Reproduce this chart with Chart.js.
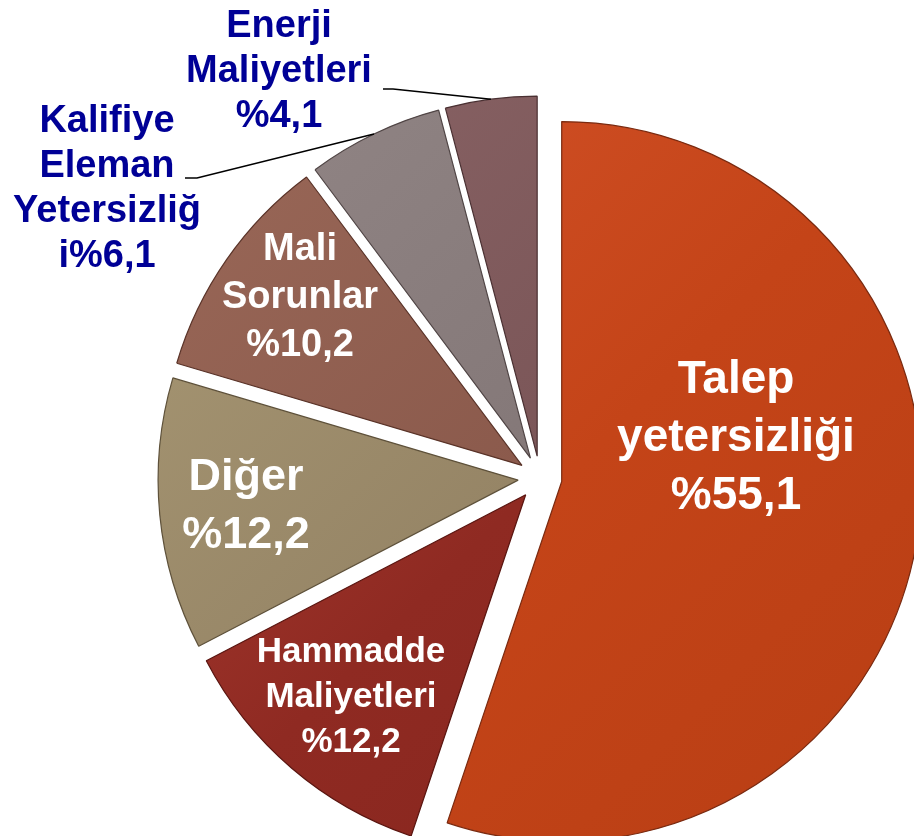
<!DOCTYPE html>
<html><head><meta charset="utf-8">
<script src="https://cdn.jsdelivr.net/npm/chart.js@4.4.1/dist/chart.umd.min.js"></script>
<style>html,body{margin:0;padding:0;background:#fff;overflow:hidden}#wrap{width:914px;height:836px;position:relative}canvas{display:block}</style>
</head><body><div id="wrap"><canvas id="c" width="914" height="836"></canvas></div>
<script>
// ---- data ----
const categories = ['Talep yetersizliği', 'Hammadde Maliyetleri', 'Diğer', 'Mali Sorunlar', 'Kalifiye Eleman Yetersizliği', 'Enerji Maliyetleri'];
const values = [55.1, 12.2, 12.2, 10.2, 6.1, 4.1];
const nameLines = [['Talep', 'yetersizliği'], ['Hammadde', 'Maliyetleri'], ['Diğer'], ['Mali', 'Sorunlar'], ['Kalifiye', 'Eleman', 'Yetersizliğ', 'i'], ['Enerji', 'Maliyetleri']];
const joinPctToLast = [false, false, false, false, true, false];

// ---- styles ----
const sliceColors = ['#C44418', '#8F2A22', '#968566', '#8B5A4C', '#847878', '#7B5658'];
const sliceLight = ['#D4532A', '#B04035', '#A89874', '#9A6858', '#928686', '#8A6466'];
const sliceDark = ['#B83E14', '#84241C', '#8A7A5C', '#7F5244', '#787070', '#704C4E'];
const sliceBorders = ['#7A2A10', '#5A1510', '#5E513A', '#5A3328', '#504545', '#4A3032'];
const explode = [22, 22, 22, 22, 22, 22];
const labelStyle = [
  {x: 736, y: 393, gap: 58, size: 46, color: '#FFFFFF'},
  {x: 351, y: 662, gap: 45, size: 35, color: '#FFFFFF'},
  {x: 246, y: 490, gap: 58, size: 45, color: '#FFFFFF'},
  {x: 300, y: 260, gap: 48, size: 38, color: '#FFFFFF'},
  {x: 107, y: 132, gap: 45, size: 38, color: '#000096', leader: [[185, 178], [197, 178]]},
  {x: 279, y: 37, gap: 45, size: 38, color: '#000096', leader: [[383, 89], [393, 89]]}
];

function pct(v) { return '%' + v.toFixed(1).replace('.', ','); }

function sliceFill(context) {
  const i = context.dataIndex;
  const chart = context.chart;
  const area = chart.chartArea;
  if (!area || context.type !== 'data') return sliceColors[i];
  const cx = (area.left + area.right) / 2, cy = (area.top + area.bottom) / 2, r = 360;
  const g = chart.ctx.createLinearGradient(cx - r, cy - r, cx + r, cy + r);
  g.addColorStop(0, sliceLight[i]);
  g.addColorStop(0.5, sliceColors[i]);
  g.addColorStop(1, sliceDark[i]);
  return g;
}

const explodePlugin = {
  id: 'explode',
  beforeDatasetDraw(chart, args) {
    const ctx = chart.ctx;
    args.meta.data.forEach((arc, i) => {
      const a = (arc.startAngle + arc.endAngle) / 2;
      ctx.save();
      ctx.translate(Math.cos(a) * explode[i], Math.sin(a) * explode[i]);
      arc.draw(ctx);
      ctx.restore();
    });
    return false;
  }
};

const labelPlugin = {
  id: 'labels',
  afterDraw(chart) {
    const ctx = chart.ctx;
    const meta = chart.getDatasetMeta(0);
    ctx.save();
    ctx.textAlign = 'center';
    ctx.textBaseline = 'alphabetic';
    meta.data.forEach((arc, i) => {
      const st = labelStyle[i];
      const lines = nameLines[i].slice();
      if (joinPctToLast[i]) lines[lines.length - 1] += pct(values[i]);
      else lines.push(pct(values[i]));
      ctx.fillStyle = st.color;
      ctx.font = 'bold ' + st.size + 'px "Liberation Sans", Arial, sans-serif';
      lines.forEach((t, k) => ctx.fillText(t, st.x, st.y + k * st.gap));
      if (st.leader) {
        const a = (arc.startAngle + arc.endAngle) / 2;
        const px = arc.x + Math.cos(a) * (explode[i] + arc.outerRadius);
        const py = arc.y + Math.sin(a) * (explode[i] + arc.outerRadius);
        ctx.beginPath();
        ctx.moveTo(st.leader[0][0], st.leader[0][1]);
        ctx.lineTo(st.leader[1][0], st.leader[1][1]);
        ctx.lineTo(px, py);
        ctx.strokeStyle = '#000';
        ctx.lineWidth = 1.5;
        ctx.stroke();
      }
    });
    ctx.restore();
  }
};

new Chart(document.getElementById('c'), {
  type: 'pie',
  data: {
    labels: categories,
    datasets: [{
      data: values,
      backgroundColor: sliceFill,
      borderColor: sliceBorders,
      borderWidth: 1.2,
      offset: 0,
      clip: false
    }]
  },
  options: {
    responsive: false,
    animation: false,
    events: [],
    radius: 360,
    layout: {padding: {left: 166, right: 0, top: 120, bottom: 0}},
    plugins: {legend: {display: false}, tooltip: {enabled: false}}
  },
  plugins: [explodePlugin, labelPlugin]
});
</script>
</body></html>
